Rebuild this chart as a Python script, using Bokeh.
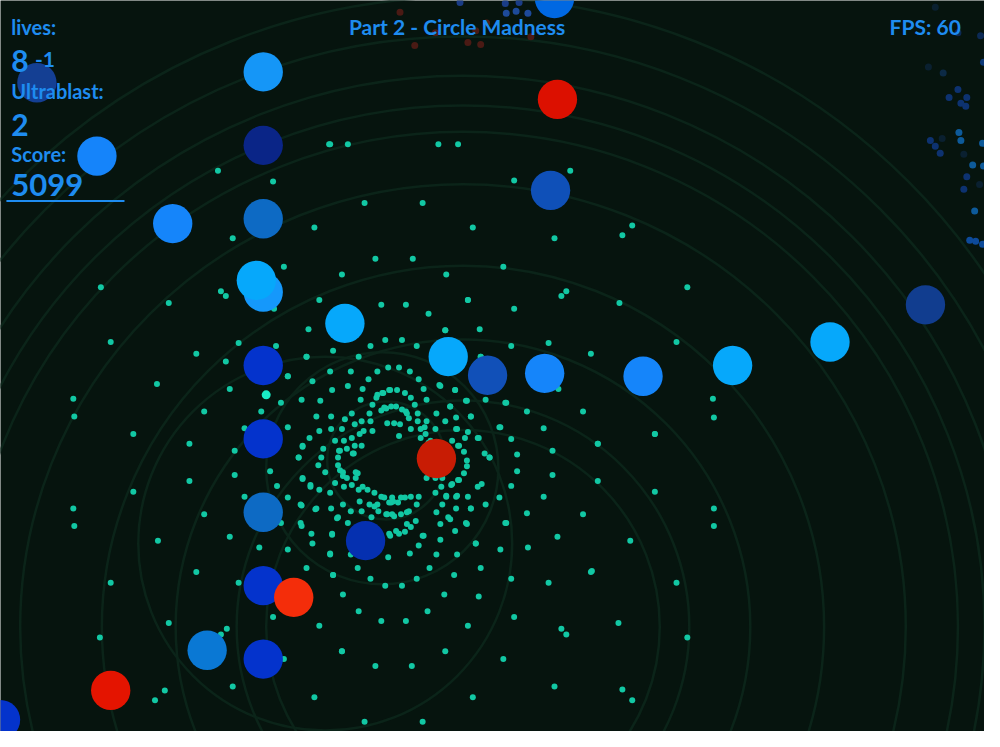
from bokeh.plotting import figure
from bokeh.models import Range1d
from bokeh.core.properties import value
from bokeh.embed import file_html
from bokeh.resources import INLINE

BG = "#06140e"
HUD = "#1e8cf0"
FONT = "Lato"

# faint ripple rings (center x, center y, radius)
ring_cx = [392, 388, 330, 470, 470, 470, 470, 470, 470, 470, 470, 470, 470]
ring_cy = [470, 478, 555, 640, 640, 640, 640, 640, 640, 640, 640, 640, 640]
ring_r = [60, 118, 190, 200, 230, 292, 367, 450, 503, 530, 560, 600, 640]

# big enemy circles
circ_x = [37, 267, 267, 98, 267, 175, 267, 260, 350, 267, 455, 495, 553, 653, 744,
          843, 940, 267, 443, 267, 371, 267, 298, 210, 267, 112, 0, 566, 559, 563]
circ_y = [84, 73, 148, 159, 223, 228, 298, 286, 330, 373, 364, 383, 381, 384, 373,
          349, 311, 448, 468, 523, 552, 598, 610, 664, 673, 705, 735, 101, 194, -2]
circ_color = ["#143f93", "#1596f7", "#0a2587", "#1584fa", "#0d6ac4", "#1585fa",
              "#1598fb", "#06a8fb", "#06a8fb", "#0433cc", "#06a8fb", "#1150b8",
              "#1585fa", "#1585fa", "#06a8fb", "#06a8fb", "#113d8f", "#0433cc",
              "#c81c04", "#0d6ac4", "#0530b0", "#0433cc", "#f42d0a", "#0a78d4",
              "#0433cc", "#e41400", "#0433cc", "#dc1000", "#0f50b8", "#0068e2"]

# teal particle field
dot_x = [311, 364, 488, 394, 405, 335, 356, 383, 416, 292, 374, 425, 317, 446, 353,
         368, 430, 337, 395, 403, 462, 388, 411, 383, 306, 493, 366, 433, 325, 473,
         285, 513, 378, 421, 397, 457, 390, 408, 357, 375, 413, 424, 443, 321, 336,
         478, 415, 350, 367, 376, 424, 433, 452, 393, 400, 360, 406, 508, 336, 347,
         463, 417, 427, 442, 324, 369, 378, 365, 432, 314, 357, 472, 486, 340, 349,
         437, 307, 360, 367, 465, 328, 352, 345, 358, 492, 303, 326, 497, 474, 323,
         343, 330, 348, 361, 307, 352, 361, 433, 442, 449, 465, 340, 315, 357, 458,
         349, 368, 485, 448, 324, 364, 373, 335, 380, 442, 417, 425, 453, 463, 475,
         390, 398, 407, 365, 399, 395, 404, 305, 348, 375, 383, 423, 449, 493, 478,
         320, 356, 367, 384, 415, 443, 392, 398, 407, 343, 377, 455, 422, 305, 353,
         473, 513, 413, 447, 417, 383, 402, 462, 316, 337, 395, 405, 429, 363, 483,
         387, 392, 402, 412, 431, 405, 344, 343, 345, 348, 359, 363, 387, 397, 411,
         380, 393, 400, 413, 427, 435,
         335, 221, 277, 319, 236, 288, 347, 102, 224, 229, 278, 171, 324, 313, 112,
         242, 280, 338, 199, 229, 311, 292, 159, 233, 270, 74, 207, 265, 75, 381,
         419, 387, 412, 435, 475, 452, 391, 408, 376, 423, 447, 389, 396, 417, 382,
         334, 353, 445, 465, 579, 522, 370, 429, 480, 642, 632, 563,
         511, 453, 698, 575, 570, 629, 475, 522, 452, 487, 519, 557, 600, 687, 488,
         462, 567, 474, 514, 457, 724, 725, 535, 592, 463, 478, 464, 475, 507, 552,
         485, 519, 665, 459, 466, 607, 561, 471, 525, 497, 474, 471, 525, 561, 466,
         489, 459, 519, 607, 665, 453, 464, 507, 552, 463, 478, 535, 592, 725, 457,
         474, 514, 725,
         337, 396, 411, 430, 447, 566, 640, 483, 508, 536, 425, 335, 356, 394, 416,
         443, 464, 363, 436, 488, 600, 338, 461, 376, 423, 519, 557, 687, 391, 408,
         348, 451, 486, 364, 434, 387, 412, 522, 475, 628, 570, 575, 698, 347, 452,
         381, 418, 511, 563, 632, 642, 480, 370, 429, 601, 665, 607,
         135, 192, 248, 238, 292, 307, 303, 307, 274, 281, 292, 315, 238, 192, 135,
         74, 75, 248, 207, 306, 321, 285, 306, 336, 342, 233, 160, 263, 292, 317,
         335, 199, 311, 338, 112, 242, 277, 171, 230, 224, 324, 101, 288, 347, 236,
         167, 157, 319]
dot_y = [364, 364, 364, 375, 375, 379, 379, 379, 379, 384, 387, 387, 389, 393, 394,
         397, 397, 398, 398, 398, 398, 401, 401, 403, 408, 408, 408, 408, 409, 409,
         411, 411, 413, 413, 415, 415, 416, 418, 422, 422, 422, 422, 422, 425, 425,
         425, 427, 428, 430, 430, 430, 430, 430, 432, 432, 433, 433, 436, 438, 438,
         438, 438, 438, 438, 440, 440, 440, 443, 443, 447, 447, 447, 447, 450, 450,
         450, 455, 455, 455, 455, 458, 458, 460, 463, 463, 467, 467, 467, 470, 475,
         475, 482, 482, 482, 488, 488, 488, 488, 488, 488, 490, 493, 495, 495, 495,
         497, 497, 497, 497, 500, 500, 500, 503, 503, 503, 507, 507, 507, 507, 507,
         508, 508, 508, 512, 512, 513, 513, 515, 515, 515, 515, 515, 515, 515, 519,
         520, 522, 522, 522, 522, 523, 525, 525, 525, 528, 528, 528, 532, 534, 534,
         534, 534, 535, 535, 538, 542, 542, 542, 545, 545, 545, 545, 547, 550, 555,
         419, 417, 415, 420, 436, 445, 460, 467, 480, 486, 463, 483, 507, 513, 508,
         517, 525, 527, 523, 447, 452,
         147, 174, 185, 232, 243, 272, 280, 293, 297, 302, 315, 309, 306, 336, 349,
         350, 353, 358, 361, 369, 364, 384, 392, 397, 403, 407, 420, 420, 425, 264,
         264, 311, 311, 320, 306, 337, 347, 347, 353, 353, 394, 401, 398, 406, 406,
         147, 147, 147, 147, 174, 184, 207, 207, 232, 230, 240, 243,
         272, 280, 293, 297, 302, 309, 306, 315, 337, 336, 353, 350, 361, 349, 364,
         398, 397, 409, 411, 415, 407, 426, 420, 420, 426, 425, 438, 441, 436, 437,
         447, 448, 443, 450, 455, 453, 460, 461, 464, 467, 476, 483, 481, 485, 490,
         494, 494, 496, 491, 502, 506, 506, 508, 507, 519, 519, 524, 525, 519, 530,
         535, 534, 537,
         546, 547, 543, 547, 551, 548, 552, 555, 561, 559, 557, 566, 566, 569, 565,
         566, 566, 580, 580, 580, 584, 587, 587, 591, 591, 591, 595, 595, 598, 598,
         607, 607, 609, 624, 624, 634, 634, 630, 639, 636, 642, 648, 651, 665, 665,
         680, 680, 673, 701, 704, 715, 712, 737, 737, 583, 443, 453,
         443, 453, 437, 460, 436, 456, 467, 489, 481, 496, 508, 497, 485, 491, 502,
         519, 537, 507, 525, 516, 519, 534, 537, 519, 529, 548, 552, 559, 561, 555,
         565, 584, 580, 587, 595, 595, 630, 636, 642, 648, 639, 651, 673, 665, 701,
         705, 715, 712]

# top-of-screen debris (exploded enemies)
deb_x = [442, 421, 483, 475, 488, 539, 494, 406, 467, 513, 524, 527, 514, 536, 550,
         950, 973, 996, 999, 943, 958, 973, 964, 982, 976, 981, 974, 976, 998, 945,
         950, 955, 957, 979, 988, 999, 982, 979, 995, 990, 985, 991, 998]
deb_y = [33, 46, 31, 43, 45, 37, 23, 12, 2, 3, 11, 2, 13, 13, 7,
         7, 33, 36, 63, 68, 74, 91, 99, 99, 105, 108, 135, 143, 146, 143,
         149, 156, 141, 157, 168, 169, 180, 193, 188, 215, 245, 246, 249]
deb_color = ["#4a1a14", "#4a1a14", "#4a1a14", "#4a1a14", "#4a1a14", "#4a1a14",
             "#5a2016", "#4a1a14", "#1a3c86", "#1a3c86", "#1d4a9a", "#1a3c86",
             "#1d4a9a", "#1d4a9a", "#c83a10",
             "#0a2030", "#0c2a55", "#0c2a55", "#0d3a7a", "#0a2030", "#0c2a45",
             "#0d3270", "#0d3270", "#0d3270", "#0d3270", "#0d3270", "#0d5a9a",
             "#0d5a9a", "#0d5a9a", "#0d3270", "#0d3270", "#0d3270", "#0a2030",
             "#0a2030", "#0d5a9a", "#0d5a9a", "#0d3270", "#0d3270", "#0a2030",
             "#0d5a9a", "#0d4a9a", "#0d4a9a", "#0d4a9a"]

p = figure(width=984, height=731, output_backend="svg", toolbar_location=None,
           x_range=Range1d(0, 1000), y_range=Range1d(747, 0), min_border=0)
p.axis.visible = False
p.grid.visible = False
p.outline_line_color = None
p.background_fill_color = BG
p.border_fill_color = BG

p.circle(ring_cx, ring_cy, radius=ring_r, fill_color=None,
         line_color="#0b2419", line_width=2.5)
p.scatter(deb_x, deb_y, size=7, color=deb_color, line_color=None)
p.scatter(dot_x, dot_y, size=6, color="#12c8a4", line_color=None)
p.scatter([270], [403], size=9, color="#19ecc6", line_color=None)
p.circle(circ_x, circ_y, radius=20, color=circ_color, line_color=None)

hud_texts = ["lives:", "8", "-1", "Ultrablast:", "2", "Score:", "5099"]
hud_x = [11, 11, 35, 11, 11, 11, 11]
hud_y = [27, 62, 60, 92, 127, 157, 189]
hud_size = ["20px", "30px", "21px", "20px", "30px", "20px", "31px"]
p.text(hud_x, hud_y, text=hud_texts, text_font_size=hud_size, text_font=value(FONT),
       text_font_style="bold", text_color=HUD, text_baseline="alphabetic")
p.segment([6], [205], [126], [205], line_color=HUD, line_width=2)

p.text([464], [27], text=["Part 2 - Circle Madness"], text_font=value(FONT),
       text_font_size="21px", text_font_style="bold", text_color=HUD,
       text_align="center", text_baseline="alphabetic")
p.text([976], [27], text=["FPS: 60"], text_font=value(FONT), text_font_size="21px",
       text_font_style="bold", text_color=HUD, text_align="right",
       text_baseline="alphabetic")

open("out.html", "w").write(file_html(p, INLINE))
